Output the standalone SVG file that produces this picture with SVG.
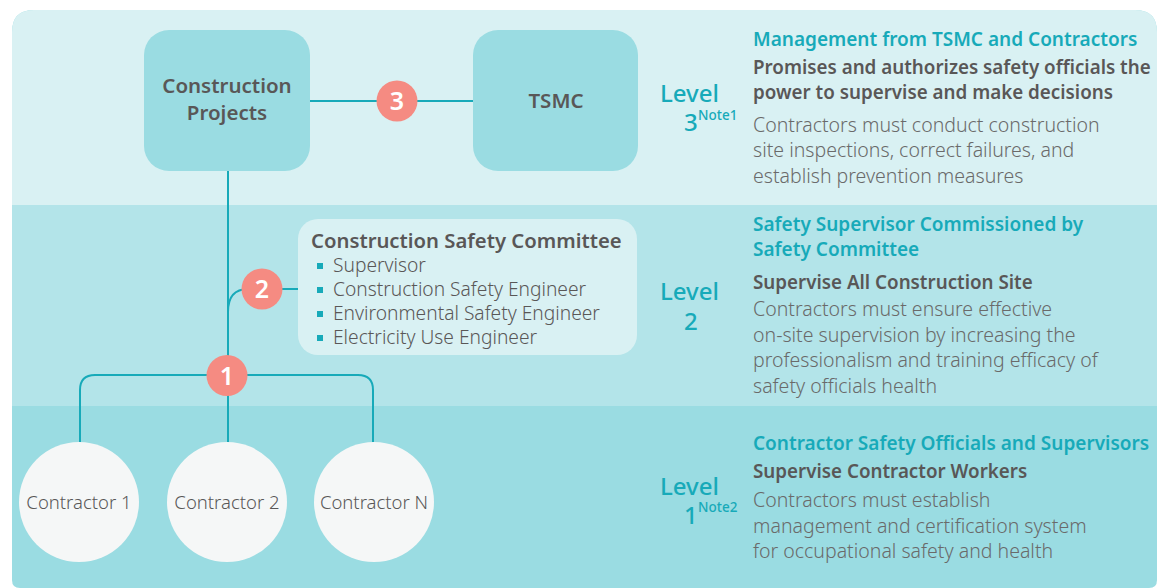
<svg xmlns="http://www.w3.org/2000/svg" width="1163" height="588" viewBox="0 0 1163 588">
<style>
.node{fill:#9adce2}
.nodeT{font-family:"Noto Sans","Liberation Sans",sans-serif;font-size:20.5px;font-weight:600;fill:#595757;text-anchor:middle}
.badge{fill:#f58b82}
.badgeT{font-family:"Noto Sans","Liberation Sans",sans-serif;font-size:25px;font-weight:600;fill:#fff;text-anchor:middle}
.circ{fill:#f5f7f7}
.circT{font-family:"Noto Sans","Liberation Sans",sans-serif;font-size:18.5px;font-weight:300;fill:#595757;text-anchor:middle}
.con{fill:none;stroke:#17aab9;stroke-width:2}
.lvl{font-family:"Noto Sans","Liberation Sans",sans-serif;font-size:24px;font-weight:500;fill:#17aab9}
.note{font-family:"Noto Sans","Liberation Sans",sans-serif;font-size:13.5px;font-weight:500;fill:#17aab9}
.hd{font-family:"Noto Sans","Liberation Sans",sans-serif;font-size:19px;font-weight:600;fill:#17aab9}
.sb{font-family:"Noto Sans","Liberation Sans",sans-serif;font-size:18.8px;font-weight:600;fill:#595757}
.ct{font-family:"Noto Sans","Liberation Sans",sans-serif;font-size:20.3px;font-weight:600;fill:#595757}
.bd{font-family:"Noto Sans","Liberation Sans",sans-serif;font-size:19.5px;font-weight:300;fill:#6a6a6a}
.li{font-family:"Noto Sans","Liberation Sans",sans-serif;font-size:19.2px;font-weight:300;fill:#595757}
.bul{fill:#17aab9}
</style>
<g id="background">
<path d="M12 32 Q12 10 34 10 L1135 10 Q1157 10 1157 32 L1157 580 Q1157 588 1149 588 L20 588 Q12 588 12 580 Z" fill="#9adce2"/>
<path d="M12 32 Q12 10 34 10 L1135 10 Q1157 10 1157 32 L1157 205 L12 205 Z" fill="#d9f1f3"/>
<rect x="12" y="205" width="1145" height="201" fill="#b3e4e9"/>
</g>
<g id="connectors">
<line class="con" x1="310" y1="101" x2="473" y2="101"/>
<line class="con" x1="228" y1="171" x2="228" y2="442"/>
<path class="con" d="M228 312 Q228 289 248 289 L298 289"/>
<path class="con" d="M80 442 L80 390 Q80 375 95 375 L358 375 Q373 375 373 390 L373 442"/>
</g>
<g id="construction-projects">
<rect class="node" x="144" y="30" width="166" height="141" rx="25"/>
<text class="nodeT" x="227" y="93">Construction</text>
<text class="nodeT" x="227" y="120">Projects</text>
</g>
<g id="tsmc">
<rect class="node" x="473" y="30" width="165" height="141" rx="25"/>
<text class="nodeT" x="556" y="108">TSMC</text>
</g>
<g id="badge-3">
<circle class="badge" cx="397" cy="101" r="20.5"/>
<text class="badgeT" x="397" y="110">3</text>
</g>
<g id="committee">
<rect x="298" y="219" width="339" height="136" rx="20" fill="#d9f1f3"/>
<text class="ct" x="311" y="248">Construction Safety Committee</text>
<rect class="bul" x="317" y="263" width="6" height="6"/>
<text class="li" x="333" y="272">Supervisor</text>
<rect class="bul" x="317" y="287" width="6" height="6"/>
<text class="li" x="333" y="296">Construction Safety Engineer</text>
<rect class="bul" x="317" y="311" width="6" height="6"/>
<text class="li" x="333" y="320">Environmental Safety Engineer</text>
<rect class="bul" x="317" y="335" width="6" height="6"/>
<text class="li" x="333" y="344">Electricity Use Engineer</text>
</g>
<g id="badge-2">
<circle class="badge" cx="262" cy="289" r="20.5"/>
<text class="badgeT" x="262" y="298">2</text>
</g>
<g id="badge-1">
<circle class="badge" cx="227" cy="375.5" r="20.5"/>
<text class="badgeT" x="227" y="384.5">1</text>
</g>
<g id="contractor-1">
<circle class="circ" cx="79" cy="502" r="60"/>
<text class="circT" x="79" y="509">Contractor 1</text>
</g>
<g id="contractor-2">
<circle class="circ" cx="227" cy="502" r="60"/>
<text class="circT" x="227" y="509">Contractor 2</text>
</g>
<g id="contractor-n">
<circle class="circ" cx="374" cy="502" r="60"/>
<text class="circT" x="374" y="509">Contractor N</text>
</g>
<g id="level-3">
<text class="lvl" x="660" y="102">Level</text>
<text class="lvl" x="684" y="131">3</text>
<text class="note" x="698" y="120">Note1</text>
<text class="hd" x="753" y="46">Management from TSMC and Contractors</text>
<text class="sb" x="753" y="74">Promises and authorizes safety officials the</text>
<text class="sb" x="753" y="99">power to supervise and make decisions</text>
<text class="bd" x="753" y="132">Contractors must conduct construction</text>
<text class="bd" x="753" y="157">site inspections, correct failures, and</text>
<text class="bd" x="753" y="183">establish prevention measures</text>
</g>
<g id="level-2">
<text class="lvl" x="660" y="300">Level</text>
<text class="lvl" x="684" y="330">2</text>
<text class="hd" x="753" y="231">Safety Supervisor Commissioned by</text>
<text class="hd" x="753" y="256">Safety Committee</text>
<text class="sb" x="753" y="289">Supervise All Construction Site</text>
<text class="bd" x="753" y="316">Contractors must ensure effective</text>
<text class="bd" x="753" y="342">on-site supervision by increasing the</text>
<text class="bd" x="753" y="367">professionalism and training efficacy of</text>
<text class="bd" x="753" y="393">safety officials health</text>
</g>
<g id="level-1">
<text class="lvl" x="660" y="495">Level</text>
<text class="lvl" x="684" y="524">1</text>
<text class="note" x="698" y="512">Note2</text>
<text class="hd" x="753" y="450">Contractor Safety Officials and Supervisors</text>
<text class="sb" x="753" y="478">Supervise Contractor Workers</text>
<text class="bd" x="753" y="507">Contractors must establish</text>
<text class="bd" x="753" y="533">management and certification system</text>
<text class="bd" x="753" y="558">for occupational safety and health</text>
</g>
</svg>
